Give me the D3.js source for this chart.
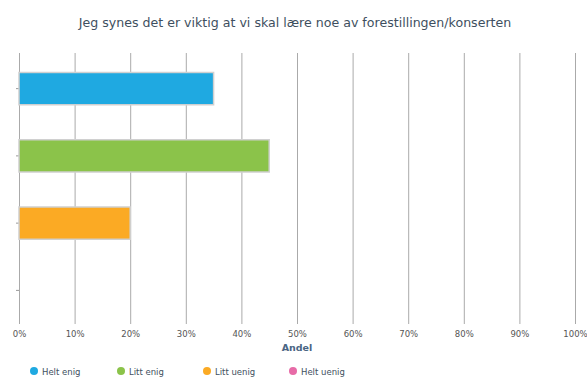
<!DOCTYPE html>
<html><head><meta charset="utf-8">
<script src="https://cdn.jsdelivr.net/npm/d3@7"></script>
<style>body{margin:0;background:#fff;}svg{display:block;}</style>
</head><body>
<svg id="c" width="587" height="378"></svg>
<script>
const categories = ["Helt enig", "Litt enig", "Litt uenig", "Helt uenig"];
const values = [35, 45, 20, 0];
const colors = ["#1fa9e1", "#8bc34a", "#fbaa24", "#e76ba7"];
const xTicks = [0,10,20,30,40,50,60,70,80,90,100];
const title = "Jeg synes det er viktig at vi skal lære noe av forestillingen/konserten";
const xTitle = "Andel";

const svg = d3.select("#c");
const font = "DejaVu Sans, sans-serif";
const m = {l:19, r:12, t:55, b:54};
const W = 587, H = 378;
const x = d3.scaleLinear().domain([0,100]).range([m.l, W - m.r]);
const y = d3.scaleBand().domain(categories).range([m.t, H - m.b]).paddingInner(0.52).paddingOuter(0.26);

svg.append("text").attr("x", 295).attr("y", 27).attr("text-anchor","middle")
  .attr("font-family", font).attr("font-size", 12.6).attr("fill", "#3e4f60").text(title);

// gridlines
const xAxis = d3.axisBottom(x).tickValues(xTicks).tickSize(-(H - m.b - m.t + 2)).tickFormat(d => d + "%").tickPadding(7);
const gx = svg.append("g").attr("transform", `translate(0,${H - m.b})`).call(xAxis);
gx.select(".domain").remove();
gx.selectAll(".tick line").attr("stroke", "#aaaaaa").attr("stroke-width", 1);
gx.selectAll(".tick text").attr("font-family", font).attr("font-size", 8.5).attr("fill", "#555");

const yAxis = d3.axisLeft(y).tickSize(3).tickFormat("");
const gy = svg.append("g").attr("transform", `translate(${m.l},0)`).call(yAxis);
gy.select(".domain").remove();
gy.selectAll(".tick line").attr("stroke", "#999");

svg.append("g").selectAll("rect").data(categories).join("rect")
  .attr("x", x(0)).attr("y", d => y(d))
  .attr("width", (d,i) => x(values[i]) - x(0)).attr("height", y.bandwidth())
  .attr("fill", (d,i) => colors[i])
  .attr("stroke", "#d0d0d0").attr("stroke-width", 1.5)
  .attr("display", (d,i) => values[i] > 0 ? null : "none");

svg.append("text").attr("x", 297).attr("y", 351).attr("text-anchor","middle")
  .attr("font-family", font).attr("font-size", 9.5).attr("font-weight","bold").attr("fill", "#4a6583").text(xTitle);

const legX = [34, 121, 207, 293];
const lg = svg.append("g").selectAll("g").data(categories).join("g")
  .attr("transform", (d,i) => `translate(${legX[i]},372)`);
lg.append("circle").attr("r", 4).attr("cy", -1).attr("fill", (d,i) => colors[i]);
lg.append("text").attr("x", 8).attr("y", 3).attr("font-family", font).attr("font-size", 8.5)
  .attr("fill", "#3e4f60").text(d => d);
</script>
</body></html>
